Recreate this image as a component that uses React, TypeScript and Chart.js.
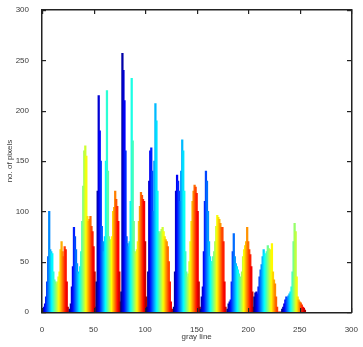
import React, { useEffect, useRef } from "react";
import { Chart, registerables } from "chart.js";

Chart.register(...registerables);

// First gray level of each colour band (jet colour cycle restarts in each band)
const bandStarts = [0, 27, 53, 77, 102, 128, 154, 180, 206, 233];

// Pixel counts per gray level, one array per colour band
const band0 = [0, 3, 5, 8, 15, 30, 55, 100, 62, 60, 58, 40, 32, 30, 28, 30, 35, 40, 62, 70, 60, 55, 65, 62, 30, 5, 0];
const band1 = [3, 8, 25, 45, 84, 75, 62, 48, 40, 38, 45, 60, 90, 125, 160, 165, 155, 95, 90, 92, 95, 85, 80, 65, 40, 5];
const band2 = [30, 120, 215, 180, 150, 85, 70, 60, 75, 150, 220, 140, 75, 70, 72, 75, 100, 104, 120, 112, 105, 90, 40, 10];
const band3 = [20, 257, 240, 210, 160, 75, 68, 65, 70, 110, 232, 170, 90, 60, 58, 62, 70, 90, 105, 119, 116, 112, 110, 70, 15];
const band4 = [5, 40, 130, 160, 163, 140, 100, 150, 207, 190, 120, 80, 78, 80, 82, 84, 80, 75, 72, 70, 65, 50, 30, 10, 3, 0];
const band5 = [5, 40, 120, 136, 130, 120, 110, 140, 171, 160, 120, 60, 40, 35, 38, 50, 70, 90, 110, 120, 126, 124, 118, 100, 30, 5];
const band6 = [3, 15, 25, 60, 110, 140, 130, 100, 70, 55, 50, 50, 55, 60, 70, 85, 96, 94, 92, 88, 84, 84, 70, 30, 5, 0];
const band7 = [3, 8, 10, 12, 30, 60, 78, 55, 48, 45, 42, 38, 35, 34, 40, 55, 62, 66, 70, 84, 70, 62, 57, 45, 20, 5];
const band8 = [15, 19, 20, 18, 25, 35, 42, 47, 55, 62, 58, 55, 60, 66, 63, 60, 62, 68, 40, 32, 28, 15, 5, 0, 0, 0, 0];
const band9 = [3, 5, 8, 12, 15, 14, 16, 18, 20, 25, 40, 70, 88, 80, 35, 15, 12, 10, 9, 7, 5, 4, 2];

const bands = [band0, band1, band2, band3, band4, band5, band6, band7, band8, band9];

const xTicks = [0, 50, 100, 150, 200, 250, 300];
const yTicks = [0, 50, 100, 150, 200, 250, 300];

const FONT = "'Liberation Sans', Arial, sans-serif";
const TEXT = "#3a3a3a";
const AXIS = "#222222";

function clamp01(v: number) {
  return Math.max(0, Math.min(1, v));
}
function jet(t: number) {
  const r = clamp01(1.5 - Math.abs(4 * t - 3));
  const g = clamp01(1.5 - Math.abs(4 * t - 2));
  const b = clamp01(1.5 - Math.abs(4 * t - 1));
  return `rgb(${Math.round(r * 255)},${Math.round(g * 255)},${Math.round(b * 255)})`;
}

const boxPlugin = {
  id: "matlabBox",
  afterDraw(chart: any) {
    const ctx = chart.ctx;
    const area = chart.chartArea;
    const xs = chart.scales["x"];
    const ys = chart.scales["y"];
    const L = Math.round(area.left);
    const R = Math.round(area.right);
    const T = Math.round(area.top);
    const B = Math.round(area.bottom);
    const len = 4;
    ctx.save();
    ctx.fillStyle = AXIS;
    ctx.fillRect(L - 1, T - 1, R - L + 2, 1.5);
    ctx.fillRect(L - 1, B, R - L + 2, 1.5);
    ctx.fillRect(L - 1, T - 1, 1.5, B - T + 2);
    ctx.fillRect(R, T - 1, 1.5, B - T + 2);
    for (const v of xTicks) {
      const px = Math.round(xs.getPixelForValue(v));
      ctx.fillRect(px, B - len, 1.2, len);
      ctx.fillRect(px, T, 1.2, len);
    }
    for (const v of yTicks) {
      const py = Math.round(ys.getPixelForValue(v));
      ctx.fillRect(L, py, len, 1.2);
      ctx.fillRect(R - len, py, len, 1.2);
    }
    ctx.restore();
  },
};

export default function App() {
  const ref = useRef<HTMLCanvasElement | null>(null);

  useEffect(() => {
    if (!ref.current) return;
    const points: { x: number; y: number }[] = [];
    const colors: string[] = [];
    bands.forEach((band, bi) => {
      band.forEach((count, j) => {
        points.push({ x: bandStarts[bi] + j, y: count });
        colors.push(jet(j / band.length));
      });
    });

    const chart = new Chart(ref.current, {
      type: "bar",
      data: {
        datasets: [
          {
            data: points as any,
            backgroundColor: colors,
            borderWidth: 0,
            barPercentage: 1,
            categoryPercentage: 1,
            barThickness: 1.6,
          } as any,
        ],
      },
      plugins: [boxPlugin],
      options: {
        animation: false,
        responsive: false,
        maintainAspectRatio: false,
        layout: { padding: { left: 0, top: 10, right: 11, bottom: 0 } },
        plugins: { legend: { display: false }, tooltip: { enabled: false } },
        scales: {
          x: {
            type: "linear",
            min: 0,
            max: 300,
            offset: false,
            grid: { display: false },
            border: { display: false },
            afterBuildTicks: (s: any) => {
              s.ticks = xTicks.map((v) => ({ value: v }));
            },
            ticks: {
              font: { size: 8, family: FONT },
              color: TEXT,
              padding: 5,
              maxRotation: 0,
              autoSkip: false,
            },
            title: {
              display: true,
              text: "gray line",
              font: { size: 8, family: FONT },
              color: TEXT,
              padding: { top: 0, bottom: 5 },
            },
            afterFit: (s: any) => {
              s.height = 35;
            },
          },
          y: {
            type: "linear",
            min: 0,
            max: 300,
            grid: { display: false },
            border: { display: false },
            afterBuildTicks: (s: any) => {
              s.ticks = yTicks.map((v) => ({ value: v }));
            },
            ticks: {
              font: { size: 8, family: FONT },
              color: TEXT,
              padding: 5,
              autoSkip: false,
            },
            title: {
              display: true,
              text: "no. of pixels",
              font: { size: 8, family: FONT },
              color: TEXT,
              padding: { top: 5, bottom: 0 },
            },
            afterFit: (s: any) => {
              s.width = 42;
            },
          },
        },
      } as any,
    });
    return () => chart.destroy();
  }, []);

  return (
    <div style={{ position: "fixed", left: 0, top: 0, width: 363, height: 347, background: "#fff" }}>
      <canvas ref={ref} width={363} height={347} style={{ width: 363, height: 347 }} />
    </div>
  );
}
